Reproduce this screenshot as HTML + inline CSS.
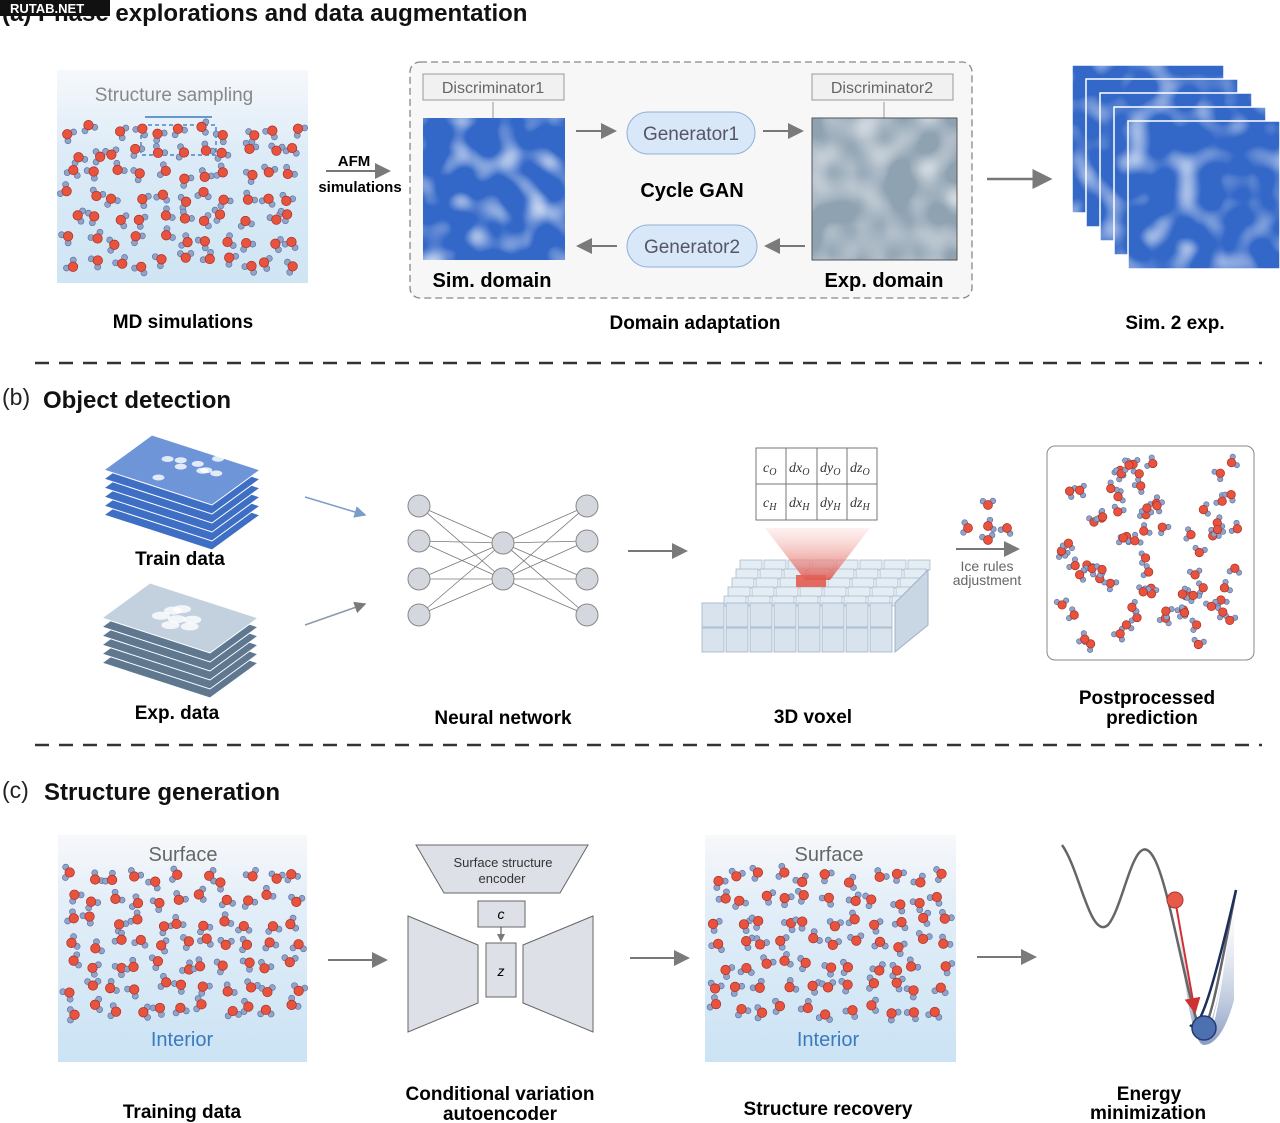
<!DOCTYPE html>
<html><head><meta charset="utf-8">
<style>
html,body{margin:0;padding:0;background:#fff;}
body{width:1280px;height:1123px;overflow:hidden;position:relative;font-family:"Liberation Sans",sans-serif;}
svg{position:absolute;left:0;top:0;}
</style></head>
<body>
<svg id="s" width="1280" height="1123" viewBox="0 0 1280 1123" xmlns="http://www.w3.org/2000/svg" font-family="Liberation Sans, sans-serif">
<defs>
<linearGradient id="mdg" x1="0" y1="0" x2="0" y2="1">
<stop offset="0" stop-color="#f6f8fb"/><stop offset="0.4" stop-color="#dcebf7"/><stop offset="1" stop-color="#cfe5f4"/></linearGradient>
<linearGradient id="mdg2" x1="0" y1="0" x2="0" y2="1">
<stop offset="0" stop-color="#f7f8fa"/><stop offset="0.3" stop-color="#e3eef8"/><stop offset="1" stop-color="#cbe3f4"/></linearGradient>
<filter id="blobs" x="0" y="0" width="1" height="1">
<feTurbulence type="fractalNoise" baseFrequency="0.04" numOctaves="1" seed="7" result="t"/>
<feColorMatrix in="t" type="matrix" values="0 0 0 0 1  0 0 0 0 1  0 0 0 0 1  2.4 0 0 0 -1.15" />
</filter>
<filter id="grayTex" x="0" y="0" width="1" height="1">
<feTurbulence type="fractalNoise" baseFrequency="0.035" numOctaves="1" seed="11" result="t"/>
<feColorMatrix in="t" type="matrix" values="0 0 0 0 1  0 0 0 0 1  0 0 0 0 1  2.0 0 0 0 -0.8" />
</filter>
<linearGradient id="beam" x1="0" y1="0" x2="0" y2="1"><stop offset="0" stop-color="#f8d0cc" stop-opacity="0.3"/><stop offset="1" stop-color="#e05a50" stop-opacity="0.9"/></linearGradient>
<linearGradient id="well" x1="0" y1="0" x2="0" y2="1"><stop offset="0" stop-color="#fff" stop-opacity="0"/><stop offset="1" stop-color="#3b5c9a"/></linearGradient>
<marker id="ah" markerWidth="8" markerHeight="8" refX="7" refY="4" orient="auto"><path d="M0,0 L8,4 L0,8 z" fill="#7a7a7a"/></marker>
<marker id="ahb" markerWidth="8" markerHeight="8" refX="7" refY="4" orient="auto"><path d="M0,0 L8,4 L0,8 z" fill="#7a9cc8"/></marker>
<marker id="ahr" markerWidth="8" markerHeight="8" refX="7" refY="4" orient="auto"><path d="M0,0 L8,4 L0,8 z" fill="#d03030"/></marker>
</defs>

<text x="2" y="21" font-size="24" font-weight="bold" fill="#111">(a) Phase explorations and data augmentation</text>
<rect x="0" y="0" width="110" height="16" fill="#111"/>
<text x="10" y="13" font-size="13" font-weight="bold" fill="#fff">RUTAB.NET</text>

<rect x="57" y="70" width="251" height="213" fill="url(#mdg)"/>
<text x="174" y="101" font-size="19" fill="#888" text-anchor="middle">Structure sampling</text>
<rect x="141" y="125" width="75" height="30" fill="none" stroke="#4a86c8" stroke-dasharray="4,3" stroke-width="1.5"/>
<line x1="145" y1="117" x2="212" y2="117" stroke="#3a7ac0" stroke-width="1.5"/>
<g id="mol1"></g>
<text x="183" y="328" font-size="19" font-weight="bold" text-anchor="middle">MD simulations</text>

<text x="354" y="166" font-size="15" font-weight="bold" text-anchor="middle">AFM</text>
<line x1="326" y1="171" x2="389" y2="171" stroke="#777" stroke-width="2" marker-end="url(#ah)"/>
<text x="360" y="192" font-size="15" font-weight="bold" text-anchor="middle">simulations</text>

<rect x="410" y="62" width="562" height="236" rx="10" fill="#f7f7f7" stroke="#888" stroke-dasharray="7,4" stroke-width="1.3"/>
<rect x="423" y="74" width="141" height="26" fill="#f1f1f1" stroke="#999"/>
<text x="493" y="93" font-size="16" fill="#666" text-anchor="middle">Discriminator1</text>
<line x1="493" y1="118" x2="493" y2="102" stroke="#999"/>
<rect x="812" y="74" width="141" height="26" fill="#f1f1f1" stroke="#999"/>
<text x="882" y="93" font-size="16" fill="#666" text-anchor="middle">Discriminator2</text>
<line x1="884" y1="118" x2="884" y2="102" stroke="#999"/>
<rect x="423" y="118" width="142" height="142" fill="#3468c8"/>
<rect x="423" y="118" width="142" height="142" filter="url(#blobs)"/>
<rect x="812" y="118" width="145" height="142" fill="#8fa2b2"/>
<rect x="812" y="118" width="145" height="142" filter="url(#grayTex)" opacity="0.9"/>
<rect x="812" y="118" width="145" height="142" fill="none" stroke="#555"/>
<rect x="627" y="112" width="128" height="42" rx="21" fill="#d8e8f8" stroke="#8fb0d6"/>
<text x="691" y="140" font-size="19" fill="#556" text-anchor="middle">Generator1</text>
<rect x="627" y="225" width="130" height="42" rx="21" fill="#d8e8f8" stroke="#8fb0d6"/>
<text x="692" y="253" font-size="19" fill="#556" text-anchor="middle">Generator2</text>
<text x="692" y="197" font-size="20" font-weight="bold" text-anchor="middle">Cycle GAN</text>
<line x1="576" y1="131" x2="615" y2="131" stroke="#777" stroke-width="2" marker-end="url(#ah)"/>
<line x1="763" y1="131" x2="802" y2="131" stroke="#777" stroke-width="2" marker-end="url(#ah)"/>
<line x1="805" y1="246" x2="766" y2="246" stroke="#777" stroke-width="2" marker-end="url(#ah)"/>
<line x1="617" y1="246" x2="578" y2="246" stroke="#777" stroke-width="2" marker-end="url(#ah)"/>
<text x="492" y="287" font-size="20" font-weight="bold" text-anchor="middle">Sim. domain</text>
<text x="884" y="287" font-size="20" font-weight="bold" text-anchor="middle">Exp. domain</text>
<text x="695" y="329" font-size="19" font-weight="bold" text-anchor="middle">Domain adaptation</text>

<line x1="987" y1="179" x2="1050" y2="179" stroke="#777" stroke-width="2.5" marker-end="url(#ah)"/>
<g id="stack"></g>
<text x="1175" y="329" font-size="19" font-weight="bold" text-anchor="middle">Sim. 2 exp.</text>

<line x1="35" y1="363" x2="1262" y2="363" stroke="#333" stroke-width="2.5" stroke-dasharray="14,10"/>

<text x="2" y="405" font-size="23" fill="#222">(b)</text>
<text x="43" y="408" font-size="24" font-weight="bold" fill="#111">Object detection</text>
<g id="layers"></g>
<text x="180" y="565" font-size="19" font-weight="bold" text-anchor="middle">Train data</text>
<text x="177" y="719" font-size="19" font-weight="bold" text-anchor="middle">Exp. data</text>
<line x1="305" y1="497" x2="365" y2="515" stroke="#7a9cc8" stroke-width="1.5" marker-end="url(#ahb)"/>
<line x1="305" y1="625" x2="365" y2="604" stroke="#8a9aaa" stroke-width="1.5" marker-end="url(#ah)"/>
<g id="nn"></g>
<text x="503" y="724" font-size="19" font-weight="bold" text-anchor="middle">Neural network</text>
<line x1="628" y1="551" x2="686" y2="551" stroke="#777" stroke-width="2" marker-end="url(#ah)"/>
<g id="vox"></g>
<polygon points="765,528 870,528 830,580 805,580" fill="url(#beam)"/>
<g font-family="Liberation Serif, serif" font-style="italic" font-size="14" fill="#333">
<rect x="756" y="448" width="121" height="72" fill="#fff" stroke="#777"/>
<line x1="756" y1="484" x2="877" y2="484" stroke="#777"/>
<line x1="786" y1="448" x2="786" y2="520" stroke="#777"/>
<line x1="817" y1="448" x2="817" y2="520" stroke="#777"/>
<line x1="847" y1="448" x2="847" y2="520" stroke="#777"/>
<text x="763" y="472">c<tspan font-size="10" dy="3">O</tspan></text>
<text x="789" y="472">dx<tspan font-size="10" dy="3">O</tspan></text>
<text x="820" y="472">dy<tspan font-size="10" dy="3">O</tspan></text>
<text x="850" y="472">dz<tspan font-size="10" dy="3">O</tspan></text>
<text x="763" y="507">c<tspan font-size="10" dy="3">H</tspan></text>
<text x="789" y="507">dx<tspan font-size="10" dy="3">H</tspan></text>
<text x="820" y="507">dy<tspan font-size="10" dy="3">H</tspan></text>
<text x="850" y="507">dz<tspan font-size="10" dy="3">H</tspan></text>
</g>
<text x="813" y="723" font-size="19" font-weight="bold" text-anchor="middle">3D voxel</text>
<g id="ice"></g>
<line x1="956" y1="549" x2="1018" y2="549" stroke="#777" stroke-width="2" marker-end="url(#ah)"/>
<text x="987" y="571" font-size="14" fill="#666" text-anchor="middle">Ice rules</text>
<text x="987" y="585" font-size="14" fill="#666" text-anchor="middle">adjustment</text>
<rect x="1047" y="446" width="207" height="214" rx="8" fill="#fff" stroke="#888"/>
<g id="post"></g>
<text x="1147" y="704" font-size="19" font-weight="bold" text-anchor="middle">Postprocessed</text>
<text x="1152" y="724" font-size="19" font-weight="bold" text-anchor="middle">prediction</text>

<line x1="35" y1="745" x2="1262" y2="745" stroke="#333" stroke-width="2.5" stroke-dasharray="14,10"/>

<text x="2" y="798" font-size="23" fill="#222">(c)</text>
<text x="44" y="800" font-size="24" font-weight="bold" fill="#111">Structure generation</text>
<rect x="58" y="835" width="249" height="227" fill="url(#mdg2)"/>
<text x="183" y="861" font-size="20" fill="#666" text-anchor="middle">Surface</text>
<text x="182" y="1046" font-size="20" fill="#3a7ac0" text-anchor="middle">Interior</text>
<g id="mol2"></g>
<text x="182" y="1118" font-size="19" font-weight="bold" text-anchor="middle">Training data</text>
<line x1="328" y1="960" x2="386" y2="960" stroke="#777" stroke-width="2" marker-end="url(#ah)"/>
<polygon points="416,845 588,845 560,893 444,893" fill="#dde1e7" stroke="#666"/>
<text x="503" y="867" font-size="13" fill="#333" text-anchor="middle">Surface structure</text>
<text x="502" y="883" font-size="13" fill="#333" text-anchor="middle">encoder</text>
<rect x="478" y="901" width="47" height="26" fill="#dde1e7" stroke="#666"/>
<text x="501" y="919" font-size="14" font-style="italic" text-anchor="middle">c</text>
<line x1="501" y1="927" x2="501" y2="941" stroke="#444" marker-end="url(#ah)"/>
<rect x="486" y="943" width="30" height="54" fill="#dde1e7" stroke="#666"/>
<text x="501" y="976" font-size="14" font-style="italic" text-anchor="middle">z</text>
<polygon points="408,916 478,945 478,1003 408,1032" fill="#dde1e7" stroke="#666"/>
<polygon points="593,916 523,945 523,1003 593,1032" fill="#dde1e7" stroke="#666"/>
<text x="500" y="1100" font-size="19" font-weight="bold" text-anchor="middle">Conditional variation</text>
<text x="500" y="1120" font-size="19" font-weight="bold" text-anchor="middle">autoencoder</text>
<line x1="630" y1="958" x2="688" y2="958" stroke="#777" stroke-width="2" marker-end="url(#ah)"/>
<rect x="705" y="835" width="251" height="227" fill="url(#mdg2)"/>
<text x="829" y="861" font-size="20" fill="#666" text-anchor="middle">Surface</text>
<text x="828" y="1046" font-size="20" fill="#3a7ac0" text-anchor="middle">Interior</text>
<g id="mol3"></g>
<text x="828" y="1115" font-size="19" font-weight="bold" text-anchor="middle">Structure recovery</text>
<line x1="977" y1="957" x2="1035" y2="957" stroke="#777" stroke-width="2" marker-end="url(#ah)"/>
<path d="M1170,880 C1180,950 1192,1030 1204,1040 C1216,1030 1226,950 1236,890 L1236,890 C1225,960 1215,1030 1204,1030 C1195,1030 1185,960 1170,880 Z" fill="url(#well)" opacity="0.5"/>
<path d="M1175,880 C1185,960 1195,1035 1205,1040 C1218,1035 1226,950 1234,892 L1234,1000 C1226,1030 1215,1045 1204,1045 C1192,1045 1182,980 1175,880 Z" fill="url(#well)" opacity="0.6"/>
<path d="M1062,845 C1080,870 1090,940 1108,925 C1125,905 1135,820 1155,860 C1170,890 1185,990 1200,1030 C1210,1035 1222,960 1236,890" fill="none" stroke="#666" stroke-width="2.5"/>
<path d="M1190,1025 C1200,1035 1215,980 1236,890" fill="none" stroke="#1c2f5c" stroke-width="2.5"/>
<line x1="1176" y1="905" x2="1195" y2="1012" stroke="#d03030" stroke-width="2" marker-end="url(#ahr)"/>
<circle cx="1175" cy="900" r="8" fill="#e85a48" stroke="#b03030"/>
<circle cx="1204" cy="1028" r="12" fill="#4d70b0" stroke="#223a70" stroke-width="1.5"/>
<text x="1149" y="1100" font-size="19" font-weight="bold" text-anchor="middle">Energy</text>
<text x="1148" y="1119" font-size="19" font-weight="bold" text-anchor="middle">minimization</text>
</svg>
<script>
var NS="http://www.w3.org/2000/svg";
var seed=12345;function rnd(){seed=(seed*16807)%2147483647;return seed/2147483647;}
function el(p,t,a){var e=document.createElementNS(NS,t);for(var k in a)e.setAttribute(k,a[k]);p.appendChild(e);return e;}
function mol(g,x,y,s){s=s||1;var a=rnd()*6.28;
 var h1x=x+Math.cos(a)*7*s,h1y=y+Math.sin(a)*7*s,h2x=x+Math.cos(a+1.8)*7*s,h2y=y+Math.sin(a+1.8)*7*s;
 el(g,"line",{x1:x,y1:y,x2:h1x,y2:h1y,stroke:"#8a98b8","stroke-width":2});
 el(g,"line",{x1:x,y1:y,x2:h2x,y2:h2y,stroke:"#8a98b8","stroke-width":2});
 el(g,"circle",{cx:h1x,cy:h1y,r:3.2*s,fill:"#8fa3cc",stroke:"#5a6c94","stroke-width":0.6});
 el(g,"circle",{cx:h2x,cy:h2y,r:3.2*s,fill:"#8fa3cc",stroke:"#5a6c94","stroke-width":0.6});
 el(g,"circle",{cx:x,cy:y,r:5*s,fill:"#e8533f",stroke:"#a83020","stroke-width":0.7});}
function fill(id,x0,y0,w,h,dx,dy){var g=document.getElementById(id);
 for(var y=y0;y<y0+h;y+=dy)for(var x=x0;x<x0+w;x+=dx)mol(g,x+rnd()*dx*0.6,y+rnd()*dy*0.5,0.95);}
fill("mol1",66,125,235,140,22,22);
fill("mol2",66,872,232,140,22,22);
fill("mol3",713,872,232,140,22,22);
(function(){var g=document.getElementById("post");for(var i=0;i<75;i++)mol(g,1060+rnd()*180,462+rnd()*185,0.85);})();
(function(){var g=document.getElementById("ice");mol(g,988,505,0.9);mol(g,968,528,0.9);mol(g,1007,528,0.9);mol(g,988,540,0.9);mol(g,988,526,0.9);})();
(function(){var g=document.getElementById("stack");
 for(var i=0;i<5;i++){var x=1072+i*14,y=65+i*14;
  el(g,"rect",{x:x,y:y,width:152,height:148,fill:"#3468c8",stroke:"#fff","stroke-width":1.5});
  el(g,"rect",{x:x,y:y,width:152,height:148,filter:"url(#blobs)",opacity:0.85});}})();
(function(){var g=document.getElementById("layers");
 function lay(cx,cy,n,c1,c2){for(var i=n-1;i>=0;i--){var y=cy+i*9;
  el(g,"polygon",{points:(cx-78)+","+(y)+" "+(cx-30)+","+(y-35)+" "+(cx+78)+","+(y)+" "+(cx+30)+","+(y+35),fill:i==0?c1:c2,stroke:"#fff","stroke-width":1});}}
 lay(182,470,6,"#6d95d8","#3e6fc4");lay(180,618,6,"#c3d1de","#5f7890");
 for(var i=0;i<9;i++)el(g,"ellipse",{cx:150+rnd()*70,cy:458+rnd()*25,rx:6,ry:3,fill:"#fff",opacity:0.8});
 for(var i=0;i<7;i++)el(g,"ellipse",{cx:140+rnd()*80,cy:605+rnd()*25,rx:9,ry:4,fill:"#fff",opacity:0.8});})();
(function(){var g=document.getElementById("nn");var L=[[419,506],[419,541],[419,579],[419,615]],M=[[503,543],[503,579]],R=[[587,506],[587,541],[587,579],[587,615]];
 L.forEach(function(a){M.forEach(function(b){el(g,"line",{x1:a[0],y1:a[1],x2:b[0],y2:b[1],stroke:"#777","stroke-width":0.8});});});
 R.forEach(function(a){M.forEach(function(b){el(g,"line",{x1:a[0],y1:a[1],x2:b[0],y2:b[1],stroke:"#777","stroke-width":0.8});});});
 L.concat(M,R).forEach(function(p){el(g,"circle",{cx:p[0],cy:p[1],r:11,fill:"#d4d8de",stroke:"#888"});});})();
(function(){var g=document.getElementById("vox");
 for(var r=0;r<5;r++)for(var c=0;c<8;c++){var x=740+c*24,y=560+r*9;
  el(g,"rect",{x:x-r*4,y:y,width:22,height:10,fill:"#e4ecf4",stroke:"#9fb2c6","stroke-width":0.7});}
 for(var l=0;l<2;l++)for(var c=0;c<8;c++){var x=702+c*24,y=603+l*25;
  el(g,"rect",{x:x,y:y,width:22,height:24,fill:"#d8e3ee",stroke:"#9fb2c6","stroke-width":0.8});}
 el(g,"polygon",{points:"895,603 928,570 928,625 895,652",fill:"#c9d7e5",stroke:"#9fb2c6"});
 el(g,"rect",{x:796,y:575,width:30,height:12,fill:"#e26a5e"});})();
</script>
</body></html>
